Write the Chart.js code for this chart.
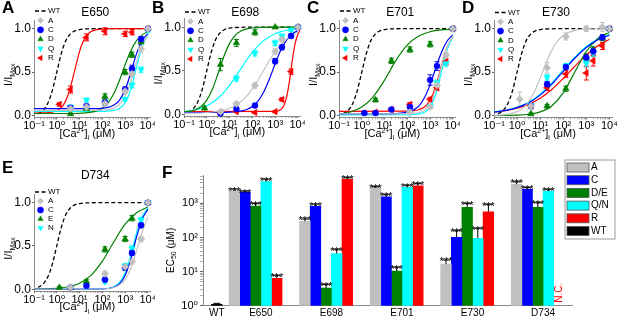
<!DOCTYPE html>
<html><head><meta charset="utf-8">
<script src="https://cdn.jsdelivr.net/npm/chart.js@4.4.1/dist/chart.umd.min.js"></script>
<style>
html,body{margin:0;padding:0;background:#fff;}
#wrap{position:relative;width:617px;height:318px;overflow:hidden;background:#fff;}
#wrap canvas{position:absolute;}
</style></head><body>
<div id="wrap">
<canvas id="cA" width="155" height="145" style="left:0px;top:0px"></canvas>
<canvas id="cB" width="155" height="145" style="left:150px;top:0px"></canvas>
<canvas id="cC" width="155" height="145" style="left:305px;top:0px"></canvas>
<canvas id="cD" width="157" height="145" style="left:460px;top:0px"></canvas>
<canvas id="cE" width="155" height="158" style="left:0px;top:160px"></canvas>
<canvas id="cF" width="457" height="163" style="left:160px;top:155px"></canvas>
</div>
<script>
// ================= DATA =================
const X_TICKS = [0.1, 1, 10, 100, 1000, 10000];
const X_TICK_LABELS = ['10⁻¹', '10⁰', '10¹', '10²', '10³', '10⁴'];
const Y_TICKS = [0, 0.5, 1];
const Y_TICK_LABELS = ['0.0', '0.5', '1.0'];

// concentrations of the measured points (µM)
const CONC   = [1.3, 4, 20, 130, 1000, 2000, 5000, 10000];
const CONC_B = [0.8, 4, 20, 130, 1000, 2000, 5000, 10000];

// WT fit (same in every panel), [conc, I/Imax]
const WT_FIT = [[0.15,0.02],[0.25,0.06],[0.4,0.14],[0.63,0.285],[1,0.5],[1.58,0.715],[2.5,0.863],[4,0.941],[6.3,0.975],[10,0.99],[31.6,0.999],[100,1],[10000,1]];

// ---- Panel A : E650 ----
const A_TITLE = 'E650';
const A_A = [null, 0.08, 0.10, 0.14, 0.28, 0.48, 0.77, 1.00];
const A_A_ERR = [null, 0.02, 0.02, 0.02, 0.03, 0.04, 0.04, 0.01];
const A_C = [null, 0.09, 0.11, 0.15, 0.30, 0.54, 0.88, 1.00];
const A_C_ERR = [null, 0.02, 0.02, 0.03, 0.03, 0.04, 0.03, 0.01];
const A_D = [null, 0.02, 0.08, 0.22, 0.50, 0.70, 0.85, 1.00];
const A_D_ERR = [null, 0.01, 0.02, 0.03, 0.03, 0.03, 0.03, 0.01];
const A_Q = [null, 0.10, 0.18, 0.15, 0.19, 0.35, 0.53, 0.98];
const A_Q_ERR = [null, 0.02, 0.02, 0.02, 0.02, 0.03, 0.03, 0.02];
const A_R = [0.13, 0.30, 0.90, 0.97, 0.94, 0.96, null, 1.00];
const A_R_ERR = [0.02, 0.04, 0.04, 0.04, 0.03, 0.03, null, 0.02];
const A_FIT_A = [[0.1,0.06],[100,0.064],[178,0.07],[316,0.087],[562,0.129],[1000,0.223],[1780,0.396],[3160,0.621],[5620,0.809],[10000,0.918]];
const A_FIT_C = [[0.1,0.08],[56,0.08],[100,0.086],[178,0.095],[316,0.119],[562,0.176],[1000,0.297],[1780,0.495],[3160,0.711],[5620,0.865],[10000,0.944]];
const A_FIT_D = [[0.1,0.025],[5.6,0.025],[10,0.028],[17.8,0.032],[31.6,0.04],[56.2,0.055],[100,0.086],[178,0.147],[316,0.251],[562,0.405],[1000,0.585],[1780,0.746],[3160,0.862],[5620,0.929],[10000,0.965]];
const A_FIT_Q = [[0.1,0.05],[100,0.05],[178,0.054],[316,0.06],[562,0.083],[1000,0.148],[1780,0.303],[3160,0.557],[5620,0.795],[10000,0.924]];
const A_FIT_R = [[0.1,0.03],[0.178,0.031],[0.316,0.033],[0.562,0.039],[1,0.056],[1.78,0.107],[3.16,0.24],[5.62,0.48],[10,0.74],[17.8,0.9],[31.6,0.966],[56.2,0.989],[100,0.996],[316,1],[10000,1]];

// ---- Panel B : E698 ----
const B_TITLE = 'E698';
const B_A = [null, 0.03, 0.12, 0.33, 0.72, 0.86, null, 1.00];
const B_A_ERR = [null, 0.01, 0.02, 0.03, 0.03, 0.03, null, 0.01];
const B_C = [null, 0.01, 0.06, 0.10, 0.61, 0.77, 0.90, 1.00];
const B_C_ERR = [null, 0.01, 0.02, 0.02, 0.03, 0.03, 0.02, 0.01];
const B_D = [0.07, 0.57, 0.82, 0.94, 1.00, null, null, 1.00];
const B_D_ERR = [0.02, 0.07, 0.04, 0.03, 0.01, null, null, 0.01];
const B_Q = [null, null, 0.41, 0.70, 0.82, 0.90, 0.97, 1.00];
const B_Q_ERR = [null, null, 0.03, 0.03, 0.03, 0.02, 0.02, 0.01];
const B_R = [null, 0.02, 0.03, 0.02, 0.03, 0.17, 0.49, 1.00];
const B_R_ERR = [null, 0.01, 0.01, 0.01, 0.01, 0.02, 0.03, 0.01];
const B_FIT_A = [[0.1,0.012],[0.316,0.013],[1,0.02],[1.78,0.026],[3.16,0.035],[5.62,0.048],[10,0.069],[17.8,0.1],[31.6,0.146],[56.2,0.209],[100,0.292],[178,0.393],[316,0.505],[562,0.617],[1000,0.718],[1780,0.801],[3160,0.864],[5620,0.91],[10000,0.942]];
const B_FIT_C = [[0.1,0.02],[3.16,0.02],[5.62,0.022],[10,0.024],[17.8,0.029],[31.6,0.037],[56.2,0.054],[100,0.089],[178,0.151],[316,0.255],[562,0.404],[1000,0.58],[1780,0.739],[3160,0.852],[5620,0.922],[10000,0.961]];
const B_FIT_D = [[0.1,0.027],[0.178,0.035],[0.316,0.052],[0.562,0.089],[1,0.162],[1.78,0.29],[3.16,0.471],[5.62,0.663],[10,0.814],[17.8,0.907],[31.6,0.956],[56.2,0.98],[100,0.991],[316,0.998],[1000,1],[10000,1]];
const B_FIT_Q = [[0.1,0.03],[0.178,0.038],[0.316,0.05],[0.562,0.07],[1,0.097],[1.78,0.135],[3.16,0.186],[5.62,0.252],[10,0.333],[17.8,0.426],[31.6,0.525],[56.2,0.623],[100,0.711],[178,0.786],[316,0.847],[562,0.891],[1000,0.925],[1780,0.949],[3160,0.965],[5620,0.976],[10000,0.984]];
const B_FIT_R = [[0.1,0.03],[1000,0.033],[1780,0.055],[2370,0.096],[3160,0.19],[4220,0.374],[5620,0.61],[7500,0.809],[10000,0.92],[12000,0.956]];

// ---- Panel C : E701 ----
const C_TITLE = 'E701';
const C_A = [null, null, null, 0.04, 0.10, 0.35, 0.70, 1.00];
const C_A_ERR = [null, null, null, 0.01, 0.02, 0.03, 0.03, 0.01];
const C_C = [0.03, 0.03, 0.07, 0.10, 0.41, 0.57, null, 1.00];
const C_C_ERR = [0.01, 0.01, 0.02, 0.02, 0.06, 0.05, null, 0.01];
const C_D = [null, 0.18, 0.63, 0.76, 0.82, null, null, 1.00];
const C_D_ERR = [null, 0.02, 0.03, 0.03, 0.03, null, null, 0.01];
const C_Q = [null, null, null, 0.03, 0.11, 0.38, 0.60, 1.00];
const C_Q_ERR = [null, null, null, 0.01, 0.02, 0.03, 0.03, 0.01];
const C_R = [null, 0.04, 0.07, 0.13, 0.19, 0.32, 0.62, 1.00];
const C_R_ERR = [null, 0.01, 0.02, 0.02, 0.02, 0.03, 0.03, 0.01];
const C_FIT_A = [[0.1,0.02],[100,0.021],[178,0.025],[316,0.036],[562,0.064],[1000,0.14],[1780,0.308],[3160,0.564],[5620,0.792],[10000,0.919]];
const C_FIT_C = [[0.1,0.02],[10,0.021],[31.6,0.024],[100,0.04],[178,0.064],[316,0.11],[562,0.206],[1000,0.357],[1780,0.549],[3160,0.73],[5620,0.858],[10000,0.93]];
const C_FIT_D = [[0.1,0.017],[0.316,0.042],[1,0.099],[3.16,0.216],[10,0.409],[31.6,0.635],[100,0.814],[316,0.916],[1000,0.965],[3160,0.986],[10000,0.994]];
const C_FIT_Q = [[0.1,0.01],[100,0.011],[316,0.02],[562,0.04],[1000,0.1],[1780,0.248],[3160,0.505],[5620,0.762],[10000,0.91]];
const C_FIT_R = [[0.1,0.05],[100,0.052],[178,0.057],[316,0.068],[562,0.1],[1000,0.177],[1780,0.339],[3160,0.574],[5620,0.787],[10000,0.912]];

// ---- Panel D : E730 ----
const D_TITLE = 'E730';
const D_A = [0.19, 0.11, 0.55, 0.91, 1.00, null, 1.02, 1.00];
const D_A_ERR = [0.08, 0.02, 0.06, 0.04, 0.03, null, 0.05, 0.02];
const D_C = [null, 0.11, 0.36, 0.56, 0.67, 0.74, 0.90, 1.00];
const D_C_ERR = [null, 0.02, 0.03, 0.03, 0.04, 0.04, 0.03, 0.02];
const D_D = [null, 0.02, 0.11, 0.31, 0.67, 0.76, 0.89, 1.00];
const D_D_ERR = [null, 0.01, 0.02, 0.03, 0.04, 0.03, 0.03, 0.02];
const D_Q = [null, 0.12, 0.44, 0.57, 0.60, 0.72, null, 1.00];
const D_Q_ERR = [null, 0.02, 0.03, 0.03, 0.04, 0.04, null, 0.02];
const D_R = [null, 0.11, 0.32, 0.48, 0.49, 0.63, 0.80, 1.00];
const D_R_ERR = [null, 0.02, 0.03, 0.04, 0.08, 0.06, 0.04, 0.02];
const D_FIT_A = [[0.1,0.003],[0.316,0.012],[1,0.046],[1.78,0.087],[3.16,0.16],[5.62,0.275],[10,0.431],[17.8,0.602],[31.6,0.751],[56.2,0.858],[100,0.923],[316,0.98],[1000,0.995],[10000,1]];
const D_FIT_C = [[0.1,0.04],[0.316,0.06],[1,0.093],[3.16,0.147],[10,0.236],[31.6,0.36],[100,0.51],[316,0.66],[1000,0.784],[3160,0.873],[10000,0.928]];
const D_FIT_D = [[0.1,0.001],[1,0.006],[3.16,0.016],[10,0.043],[31.6,0.112],[100,0.262],[316,0.5],[1000,0.738],[3160,0.888],[10000,0.957]];
const D_FIT_Q = [[0.1,0.043],[0.316,0.062],[1,0.096],[3.16,0.154],[10,0.247],[31.6,0.373],[100,0.527],[316,0.673],[1000,0.796],[3160,0.878],[10000,0.932]];
const D_FIT_R = [[0.1,0.04],[0.316,0.057],[1,0.085],[3.16,0.13],[10,0.2],[31.6,0.3],[100,0.427],[316,0.566],[1000,0.697],[3160,0.803],[10000,0.878]];

// ---- Panel E : D734 ----
const E_TITLE = 'D734';
const E_A = [null, 0.02, null, 0.18, 0.26, 0.32, 0.58, 1.00];
const E_A_ERR = [null, 0.01, null, 0.03, 0.03, 0.03, 0.03, 0.01];
const E_C = [null, 0.02, 0.04, 0.11, 0.25, 0.42, 0.74, 1.00];
const E_C_ERR = [null, 0.01, 0.01, 0.02, 0.03, 0.03, 0.03, 0.01];
const E_E = [0.02, 0.02, 0.09, 0.46, 0.58, 0.82, null, 1.00];
const E_E_ERR = [0.01, 0.01, 0.02, 0.03, 0.03, 0.03, null, 0.01];
const E_N = [null, null, 0.04, 0.09, 0.27, 0.47, 0.80, 1.00];
const E_N_ERR = [null, null, 0.01, 0.02, 0.03, 0.03, 0.03, 0.01];
const E_FIT_A = [[0.1,0],[100,0.003],[316,0.02],[562,0.048],[1000,0.112],[1780,0.24],[3160,0.443],[5620,0.666],[10000,0.834]];
const E_FIT_C = [[0.1,0],[100,0.003],[316,0.023],[562,0.063],[1000,0.16],[1780,0.349],[3160,0.602],[5620,0.81],[10000,0.923]];
const E_FIT_E = [[0.1,0.002],[0.316,0.005],[1,0.012],[3.16,0.029],[10,0.07],[31.6,0.16],[100,0.324],[316,0.546],[1000,0.751],[3160,0.884],[10000,0.95]];
const E_FIT_N = [[0.1,0],[100,0.004],[316,0.029],[562,0.077],[1000,0.19],[1780,0.398],[3160,0.651],[5620,0.84],[10000,0.937]];

// ---- Panel F : EC50 bars ----
const F_CATS = ['WT', 'E650', 'E698', 'E701', 'E730', 'D734'];
const F_LABELS = ['A', 'C', 'D/E', 'Q/N', 'R', 'WT'];
const F_A  = [null, 2350, 300, 2850, 16.6, 3640];
const F_C  = [null, 2130, 820, 1560, 101, 2600];
const F_DE = [null, 840, 3.3, 10.3, 770, 770];
const F_QN = [null, 4350, 34, 2970, 95, 2300];
const F_R  = [null, 6.4, 5100, 3300, 570, null];
const F_WT = [1.1, null, null, null, null, null];
const F_A_ERR  = [null, 280, 50, 250, 5.4, 660];
const F_C_ERR  = [null, 160, 130, 240, 57, 300];
const F_DE_ERR = [null, 160, 0.9, 3.2, 230, 280];
const F_QN_ERR = [null, 780, 11, 430, 91, 300];
const F_R_ERR  = [null, 1.2, 600, 500, 370, null];
const F_WT_ERR = [0.07, null, null, null, null, null];
const F_Y_TICKS = [1, 10, 100, 1000];
const F_Y_TICK_LABELS = ['10⁰', '10¹', '10²', '10³'];
const F_NC_LABEL = 'N.C.';
const F_SIG = '***';

// ================= STYLE / DRAWING =================
const FONT = '"Liberation Sans", Arial, "DejaVu Sans", sans-serif';
Chart.defaults.font.family = FONT;
Chart.defaults.color = '#000';

const STY = {
  A: {color:'#C0C0C0', line:'#C4C4C4', ps:'rectRot', rot:0, r:3.7},
  C: {color:'#0000FF', line:'#0000FF', ps:'circle', rot:0, r:3.0},
  D: {color:'#008000', line:'#008000', ps:'triangle', rot:0, r:3.8},
  Q: {color:'#00FFFF', line:'#00FFFF', ps:'triangle', rot:180, r:3.8},
  R: {color:'#FF0000', line:'#FF0000', ps:'triangle', rot:270, r:3.8}
};
const AXIS_COLOR = '#8a8a8a';

function rich(ctx, parts, x, y, size, rot) {
  ctx.save();
  ctx.translate(x, y);
  if (rot) ctx.rotate(rot);
  ctx.textAlign = 'left';
  ctx.textBaseline = 'alphabetic';
  const small = Math.round(size * 0.68);
  let total = 0;
  const ws = parts.map(([t, k]) => { ctx.font = (k ? small : size) + 'px ' + FONT; const w = ctx.measureText(t).width; total += w; return w; });
  let cx = -total / 2;
  const base = size * 0.36;
  parts.forEach(([t, k], i) => {
    ctx.font = (k ? small : size) + 'px ' + FONT;
    const dy = k === 'sup' ? -size * 0.38 : (k === 'sub' ? size * 0.28 : 0);
    ctx.fillText(t, cx, base + dy);
    cx += ws[i];
  });
  ctx.restore();
}

function marker(ctx, ps, rotDeg, r, x, y, color) {
  ctx.save();
  ctx.translate(x, y);
  ctx.rotate(rotDeg * Math.PI / 180);
  ctx.fillStyle = color; ctx.strokeStyle = color; ctx.lineWidth = 0.5;
  ctx.beginPath();
  if (ps === 'circle') ctx.arc(0, 0, r, 0, Math.PI * 2);
  else if (ps === 'rectRot') { ctx.moveTo(0, -r); ctx.lineTo(r, 0); ctx.lineTo(0, r); ctx.lineTo(-r, 0); ctx.closePath(); }
  else { for (let k = 0; k < 3; k++) { const a = k * 2 * Math.PI / 3; const px = Math.sin(a) * r, py = -Math.cos(a) * r; if (k) ctx.lineTo(px, py); else ctx.moveTo(px, py); } ctx.closePath(); }
  ctx.fill(); ctx.stroke();
  ctx.restore();
}

const curveDeco = {
  id: 'deco',
  beforeDatasetsDraw(chart) {
    const ctx = chart.ctx, ys = chart.scales.y;
    chart.data.datasets.forEach((d, i) => {
      if (d.kind !== 'pts') return;
      const meta = chart.getDatasetMeta(i);
      ctx.save();
      ctx.strokeStyle = d.pointBorderColor; ctx.lineWidth = 1;
      meta.data.forEach((el, j) => {
        const r = d.data[j];
        if (!r || !r.e) return;
        const y1 = ys.getPixelForValue(r.y + r.e), y2 = ys.getPixelForValue(r.y - r.e);
        ctx.beginPath();
        ctx.moveTo(el.x, y1); ctx.lineTo(el.x, y2);
        ctx.moveTo(el.x - 2.5, y1); ctx.lineTo(el.x + 2.5, y1);
        ctx.moveTo(el.x - 2.5, y2); ctx.lineTo(el.x + 2.5, y2);
        ctx.stroke();
      });
      ctx.restore();
    });
  },
  afterDraw(chart, args, o) {
    const ctx = chart.ctx, ca = chart.chartArea;
    ctx.save();
    ctx.fillStyle = '#000';
    ctx.font = 'bold 17px ' + FONT; ctx.textAlign = 'left'; ctx.textBaseline = 'top';
    ctx.fillText(o.letter, 2, o.letterY);
    ctx.font = '12px ' + FONT; ctx.textAlign = 'center'; ctx.textBaseline = 'middle';
    ctx.fillText(o.title, (ca.left + ca.right) / 2 + 3, o.titleY);
    rich(ctx, [['I/I', ''], ['Max', 'sub']], 8, (ca.top + ca.bottom) / 2 + 6, 11, -Math.PI / 2);
    rich(ctx, [['[Ca', ''], ['2+', 'sup'], [']', ''], ['i', 'sub'], [' (μM)', '']], (ca.left + ca.right) / 2 - 5, ca.bottom + 15.5, 11, 0);
    // legend
    let y = o.legendY;
    ctx.font = '8px ' + FONT; ctx.textAlign = 'left'; ctx.textBaseline = 'middle';
    chart.data.datasets.forEach(d => {
      if (d.kind === 'wt') {
        ctx.save(); ctx.strokeStyle = '#000'; ctx.lineWidth = 1.3; ctx.setLineDash([4, 2.5]);
        ctx.beginPath(); ctx.moveTo(35, y); ctx.lineTo(46, y); ctx.stroke(); ctx.restore();
      } else if (d.kind === 'pts') {
        const st = STY[d.style];
        marker(ctx, st.ps, st.rot, 3.1, 40.5, y, st.color);
      } else return;
      ctx.fillStyle = '#000';
      ctx.fillText(d.label, 48, y);
      y += o.legendDy;
    });
    ctx.restore();
  }
};

const X_MINOR = [];
[0.1, 1, 10, 100, 1000].forEach(dec => { for (let m = 2; m <= 9; m++) X_MINOR.push(m * dec); });
const X_ALL = X_TICKS.concat(X_MINOR).sort((a, b) => a - b);

function curvePanel(id, p) {
  const ds = [{
    label: 'WT', kind: 'wt', data: WT_FIT.map(([x, y]) => ({x, y})),
    showLine: true, borderColor: '#000', borderWidth: 1.3, borderDash: [4, 2.5],
    pointRadius: 0, cubicInterpolationMode: 'monotone', order: 3, clip: false
  }];
  p.series.forEach(s => {
    const st = STY[s.style];
    ds.push({
      label: s.label + ' fit', kind: 'fit', data: s.fit.map(([x, y]) => ({x, y})),
      showLine: true, borderColor: st.line, borderWidth: 1.2, pointRadius: 0,
      cubicInterpolationMode: 'monotone', order: 2, clip: false
    });
    ds.push({
      label: s.label, kind: 'pts', style: s.style,
      data: p.conc.map((x, i) => s.vals[i] == null ? null : {x, y: s.vals[i], e: s.errs[i]}).filter(Boolean),
      showLine: false, pointStyle: st.ps, pointRotation: st.rot, pointRadius: st.r,
      pointBackgroundColor: st.color, pointBorderColor: st.color, pointBorderWidth: 0.5,
      order: 1, clip: false
    });
  });
  const canvas = document.getElementById(id);
  const H = canvas.height, W = canvas.width;
  const g = p.geom;
  return new Chart(canvas, {
    type: 'scatter',
    data: {datasets: ds},
    options: {
      responsive: false, animation: false, events: [], devicePixelRatio: 1,
      layout: {padding: {left: 0, right: W - g.right, top: g.top, bottom: 0}},
      plugins: {legend: {display: false}, tooltip: {enabled: false}, deco: p.deco},
      scales: {
        x: {
          type: 'logarithmic', min: 0.1, max: 13000,
          afterBuildTicks: s => { s.ticks = X_ALL.map(v => ({value: v})); },
          afterFit: s => { s.height = H - g.bottom; s.paddingLeft = 0; s.paddingRight = 0; },
          ticks: {autoSkip: false, maxRotation: 0, minRotation: 0, padding: 0, font: {size: 11}, color: '#000',
                  callback: v => { const k = X_TICKS.indexOf(v); return k >= 0 ? X_TICK_LABELS[k] : ''; }},
          grid: {drawOnChartArea: false, drawTicks: true, tickLength: 2,
                 tickColor: c => (X_TICKS.indexOf(c.tick && c.tick.value) >= 0 ? '#666' : '#aaa')},
          border: {color: AXIS_COLOR, width: 1}
        },
        y: {
          type: 'linear', min: -0.02, max: 1.1,
          afterBuildTicks: s => { s.ticks = Y_TICKS.map(v => ({value: v})); },
          afterFit: s => { s.width = g.left; s.paddingTop = 0; s.paddingBottom = 0; },
          ticks: {padding: 1, font: {size: 12}, color: '#000', callback: (v, i) => Y_TICK_LABELS[i]},
          grid: {drawOnChartArea: false, drawTicks: true, tickLength: 2, tickColor: '#666'},
          border: {color: AXIS_COLOR, width: 1}
        }
      }
    },
    plugins: [curveDeco]
  });
}

const GEO = {left: 34, right: 152, top: 20, bottom: 117.4};
curvePanel('cA', {conc: CONC, geom: GEO,
  deco: {letter: 'A', letterY: 0, title: A_TITLE, titleY: 13, legendY: 11, legendDy: 9.4},
  series: [
    {label: 'A', style: 'A', vals: A_A, errs: A_A_ERR, fit: A_FIT_A},
    {label: 'C', style: 'C', vals: A_C, errs: A_C_ERR, fit: A_FIT_C},
    {label: 'D', style: 'D', vals: A_D, errs: A_D_ERR, fit: A_FIT_D},
    {label: 'Q', style: 'Q', vals: A_Q, errs: A_Q_ERR, fit: A_FIT_Q},
    {label: 'R', style: 'R', vals: A_R, errs: A_R_ERR, fit: A_FIT_R}
  ]});
curvePanel('cB', {conc: CONC_B, geom: {left: 34, right: 152, top: 18.5, bottom: 116},
  deco: {letter: 'B', letterY: 0, title: B_TITLE, titleY: 13, legendY: 12, legendDy: 9.4},
  series: [
    {label: 'A', style: 'A', vals: B_A, errs: B_A_ERR, fit: B_FIT_A},
    {label: 'C', style: 'C', vals: B_C, errs: B_C_ERR, fit: B_FIT_C},
    {label: 'D', style: 'D', vals: B_D, errs: B_D_ERR, fit: B_FIT_D},
    {label: 'Q', style: 'Q', vals: B_Q, errs: B_Q_ERR, fit: B_FIT_Q},
    {label: 'R', style: 'R', vals: B_R, errs: B_R_ERR, fit: B_FIT_R}
  ]});
curvePanel('cC', {conc: CONC, geom: GEO,
  deco: {letter: 'C', letterY: 0, title: C_TITLE, titleY: 13, legendY: 11, legendDy: 9.4},
  series: [
    {label: 'A', style: 'A', vals: C_A, errs: C_A_ERR, fit: C_FIT_A},
    {label: 'C', style: 'C', vals: C_C, errs: C_C_ERR, fit: C_FIT_C},
    {label: 'D', style: 'D', vals: C_D, errs: C_D_ERR, fit: C_FIT_D},
    {label: 'Q', style: 'Q', vals: C_Q, errs: C_Q_ERR, fit: C_FIT_Q},
    {label: 'R', style: 'R', vals: C_R, errs: C_R_ERR, fit: C_FIT_R}
  ]});
curvePanel('cD', {conc: CONC, geom: GEO,
  deco: {letter: 'D', letterY: 0, title: D_TITLE, titleY: 13, legendY: 12.5, legendDy: 9.3},
  series: [
    {label: 'A', style: 'A', vals: D_A, errs: D_A_ERR, fit: D_FIT_A},
    {label: 'C', style: 'C', vals: D_C, errs: D_C_ERR, fit: D_FIT_C},
    {label: 'D', style: 'D', vals: D_D, errs: D_D_ERR, fit: D_FIT_D},
    {label: 'Q', style: 'Q', vals: D_Q, errs: D_Q_ERR, fit: D_FIT_Q},
    {label: 'R', style: 'R', vals: D_R, errs: D_R_ERR, fit: D_FIT_R}
  ]});
curvePanel('cE', {conc: CONC, geom: {left: 34, right: 151, top: 34, bottom: 131},
  deco: {letter: 'E', letterY: 0, title: E_TITLE, titleY: 16, legendY: 32, legendDy: 9},
  series: [
    {label: 'A', style: 'A', vals: E_A, errs: E_A_ERR, fit: E_FIT_A},
    {label: 'C', style: 'C', vals: E_C, errs: E_C_ERR, fit: E_FIT_C},
    {label: 'E', style: 'D', vals: E_E, errs: E_E_ERR, fit: E_FIT_E},
    {label: 'N', style: 'Q', vals: E_N, errs: E_N_ERR, fit: E_FIT_N}
  ]});

// ================= PANEL F =================
const F_COLORS = ['#C0C0C0', '#0000FF', '#008000', '#00FFFF', '#FF0000', '#000000'];
const F_VALS = [F_A, F_C, F_DE, F_QN, F_R, F_WT];
const F_ERRS = [F_A_ERR, F_C_ERR, F_DE_ERR, F_QN_ERR, F_R_ERR, F_WT_ERR];
const F_Y_MINOR = [];
[1, 10, 100, 1000].forEach(dec => { for (let m = 2; m <= 9; m++) if (m * dec <= 6800) F_Y_MINOR.push(m * dec); });
const F_Y_ALL = F_Y_TICKS.concat(F_Y_MINOR).sort((a, b) => a - b);

const barDeco = {
  id: 'fdeco',
  afterDatasetsDraw(chart) {
    const ctx = chart.ctx, ys = chart.scales.y;
    chart.data.datasets.forEach((d, i) => {
      const meta = chart.getDatasetMeta(i);
      meta.data.forEach((el, j) => {
        const r = d.data[j];
        if (!r) return;
        const top = ys.getPixelForValue(r.y + r.e);
        ctx.save();
        ctx.strokeStyle = '#000'; ctx.lineWidth = 1;
        ctx.beginPath(); ctx.moveTo(el.x, el.y); ctx.lineTo(el.x, top);
        ctx.moveTo(el.x - 3.5, top); ctx.lineTo(el.x + 3.5, top); ctx.stroke();
        if (d.sig) {
          ctx.fillStyle = '#000'; ctx.font = '11px ' + FONT; ctx.textAlign = 'center'; ctx.textBaseline = 'alphabetic';
          ctx.fillText(F_SIG, el.x, top + 5.5);
        }
        ctx.restore();
      });
    });
  },
  afterDraw(chart, args, o) {
    const ctx = chart.ctx, ca = chart.chartArea;
    ctx.save();
    ctx.fillStyle = '#000';
    ctx.font = 'bold 17px ' + FONT; ctx.textAlign = 'left'; ctx.textBaseline = 'top';
    ctx.fillText('F', 2, 10);
    rich(ctx, [['EC', ''], ['50', 'sub'], [' (μM)', '']], 10, (ca.top + ca.bottom) / 2 + 10, 10, -Math.PI / 2);
    // WT category label, under the WT bar
    const wtIdx = F_LABELS.indexOf('WT');
    const wtEl = chart.getDatasetMeta(wtIdx).data[0];
    ctx.font = '10px ' + FONT; ctx.textAlign = 'center'; ctx.textBaseline = 'middle';
    ctx.fillText(F_CATS[0], wtEl.x, ca.bottom + 8);
    // N.C. marker for the missing R value of D734
    const qnMeta = chart.getDatasetMeta(F_LABELS.indexOf('Q/N'));
    const qnLast = qnMeta.data[qnMeta.data.length - 1];
    ctx.save();
    ctx.translate(qnLast.x + qnLast.width, ca.bottom - 13);
    ctx.rotate(-Math.PI / 2);
    ctx.fillStyle = '#FF0000'; ctx.font = '10px ' + FONT;
    ctx.fillText(F_NC_LABEL, 0, 0);
    ctx.restore();
    // legend box
    const L = o.legend;
    ctx.strokeStyle = '#9a9a9a'; ctx.lineWidth = 1;
    ctx.strokeRect(L.x0, L.y0, L.w, L.h);
    ctx.font = '10px ' + FONT; ctx.textAlign = 'left'; ctx.textBaseline = 'middle';
    chart.data.datasets.forEach((d, i) => {
      const y = L.y0 + L.first + i * L.dy;
      ctx.fillStyle = d.backgroundColor;
      ctx.fillRect(L.x0 + 2, y - 4.5, 22, 9);
      ctx.strokeStyle = '#555'; ctx.lineWidth = 0.8;
      ctx.strokeRect(L.x0 + 2, y - 4.5, 22, 9);
      ctx.fillStyle = '#000';
      ctx.fillText(d.label, L.x0 + 26, y);
    });
    ctx.restore();
  }
};

(function () {
  const canvas = document.getElementById('cF');
  const H = canvas.height, W = canvas.width;
  const chartLeft = 43, chartRight = 412, chartTop = 20, chartBottom = 150.7;
  new Chart(canvas, {
    type: 'bar',
    data: {
      datasets: F_LABELS.map((lab, si) => ({
        label: lab,
        data: F_VALS[si].map((v, i) => v == null ? null : {x: i, y: v, e: F_ERRS[si][i]}).filter(Boolean),
        backgroundColor: F_COLORS[si], borderWidth: 0, barThickness: 10.6,
        sig: lab !== 'WT'
      }))
    },
    options: {
      responsive: false, animation: false, events: [], devicePixelRatio: 1,
      layout: {padding: {left: 0, right: W - chartRight, top: chartTop, bottom: 0}},
      plugins: {legend: {display: false}, tooltip: {enabled: false},
        fdeco: {legend: {x0: 405, y0: 5, w: 50, h: 79, first: 7.5, dy: 12.7}}},
      scales: {
        x: {
          type: 'linear', min: 0.18, max: 5.41, offset: false,
          afterBuildTicks: s => { s.ticks = F_CATS.map((c, i) => ({value: i})).filter(t => t.value > 0); },
          afterFit: s => { s.height = H - chartBottom; s.paddingLeft = 0; s.paddingRight = 0; },
          ticks: {autoSkip: false, maxRotation: 0, minRotation: 0, padding: 2, font: {size: 10}, color: '#000',
                  callback: v => F_CATS[v]},
          grid: {display: false, drawTicks: false, offset: false},
          border: {color: AXIS_COLOR, width: 1}
        },
        y: {
          type: 'logarithmic', min: 1, max: 6800,
          afterBuildTicks: s => { s.ticks = F_Y_ALL.map(v => ({value: v})); },
          afterFit: s => { s.width = chartLeft; s.paddingTop = 0; s.paddingBottom = 0; },
          ticks: {autoSkip: false, padding: 2, font: {size: 11}, color: '#000',
                  callback: v => { const k = F_Y_TICKS.indexOf(v); return k >= 0 ? F_Y_TICK_LABELS[k] : ''; }},
          grid: {drawOnChartArea: false, drawTicks: true, tickLength: 3,
                 tickColor: c => (F_Y_TICKS.indexOf(c.tick && c.tick.value) >= 0 ? '#666' : '#aaa')},
          border: {color: AXIS_COLOR, width: 1}
        }
      }
    },
    plugins: [barDeco]
  });
})();
</script>
</body></html>
